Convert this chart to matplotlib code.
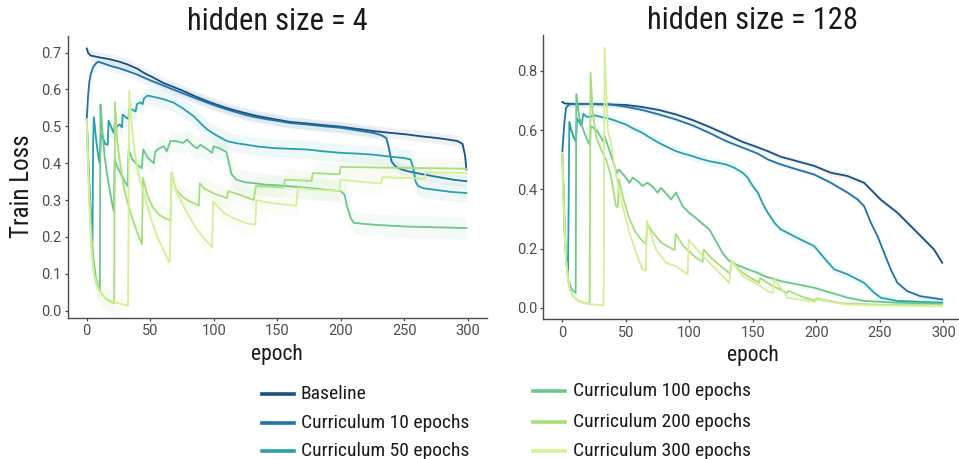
import matplotlib
matplotlib.use("Agg")
import matplotlib.pyplot as plt
from matplotlib.lines import Line2D
import numpy as np

W, H = 959, 459

labels = ["Baseline", "Curriculum 10 epochs", "Curriculum 50 epochs",
          "Curriculum 100 epochs", "Curriculum 200 epochs", "Curriculum 300 epochs"]
colors = ["#1b4f7f", "#1f74a6", "#2aa0a8", "#6cc68c", "#a9de7c", "#d5ef97"]
titles = ["hidden size = 4", "hidden size = 128"]
xticks = [0, 50, 100, 150, 200, 250, 300]
h4_yticks = [0.0, 0.1, 0.2, 0.3, 0.4, 0.5, 0.6, 0.7]
h128_yticks = [0.0, 0.2, 0.4, 0.6, 0.8]

# ---- hidden size = 4 ----
h4_base_ep = [0, 1, 3, 10, 18, 25, 32, 40, 45, 52, 60, 68, 76, 85, 95, 103, 110, 118, 126,
              134, 142, 150, 160, 173, 187, 200, 213, 226, 240, 252, 263, 274, 283, 292,
              296, 298, 299]
h4_base_loss = [0.711, 0.700, 0.692, 0.687, 0.682, 0.676, 0.668, 0.656, 0.645, 0.633, 0.618,
                0.607, 0.596, 0.582, 0.568, 0.558, 0.550, 0.542, 0.535, 0.528, 0.523, 0.518,
                0.512, 0.508, 0.503, 0.499, 0.493, 0.487, 0.482, 0.478, 0.473, 0.469, 0.465,
                0.460, 0.452, 0.420, 0.383]

h4_c10_ep = [0, 1, 2, 3, 5, 7, 9, 12, 18.6, 25, 32, 40, 45, 52, 60, 68, 76, 85, 95, 103, 110,
             118, 126, 134, 142, 150, 160, 173, 187, 200, 213, 226, 232, 236, 238, 240, 243,
             247, 253, 263, 274, 289, 299]
h4_c10_loss = [0.519, 0.580, 0.620, 0.640, 0.660, 0.670, 0.675, 0.672, 0.664, 0.658, 0.650,
               0.640, 0.632, 0.622, 0.611, 0.600, 0.589, 0.577, 0.564, 0.554, 0.546, 0.538,
               0.530, 0.524, 0.519, 0.515, 0.509, 0.505, 0.500, 0.496, 0.489, 0.482, 0.476,
               0.468, 0.440, 0.405, 0.392, 0.384, 0.378, 0.371, 0.364, 0.355, 0.351]

h4_c50_ep = [0, 1.5, 3, 4.5, 5, 5.6, 7.5, 9.5, 10.3, 11, 12, 14.5, 16.5, 17.2, 19, 21.3, 22.3,
             24, 26, 27.8, 28.3, 30.5, 32.8, 33.5, 36, 38.5, 39.5, 42, 44, 45, 47.5, 50, 55,
             60, 68.5, 76, 84, 90, 95, 100, 105, 110.5, 118, 126, 135, 147, 160, 173.7, 187,
             200, 213, 226, 238, 250, 255, 257, 259, 261, 265, 273.7, 287, 299]
h4_c50_loss = [0.519, 0.380, 0.270, 0.190, 0.450, 0.525, 0.460, 0.410, 0.400, 0.470, 0.476,
               0.452, 0.450, 0.515, 0.500, 0.482, 0.510, 0.500, 0.505, 0.497, 0.532, 0.525,
               0.520, 0.548, 0.545, 0.540, 0.560, 0.565, 0.560, 0.575, 0.583, 0.582, 0.578,
               0.574, 0.564, 0.548, 0.528, 0.507, 0.491, 0.480, 0.470, 0.460, 0.454, 0.450,
               0.445, 0.441, 0.439, 0.437, 0.432, 0.428, 0.426, 0.423, 0.418, 0.414, 0.410,
               0.390, 0.350, 0.338, 0.332, 0.328, 0.322, 0.319]

h4_c100_ep = [0, 1.5, 3, 5, 7, 9, 10.3, 10.8, 12, 14, 16, 18, 20, 21.3, 22, 24, 27, 30, 32.3,
              33, 36, 40, 43.3, 44.5, 48, 52.8, 54, 57, 60.6, 63, 65.9, 70, 76, 79, 83, 87,
              89.5, 94, 98.7, 100, 105, 110, 112, 114, 118, 125, 131.5, 140, 154, 173.7, 200,
              203, 205, 208, 210.5, 226, 252.6, 275, 299]
h4_c100_loss = [0.519, 0.380, 0.260, 0.150, 0.090, 0.065, 0.055, 0.559, 0.500, 0.420, 0.370,
                0.330, 0.290, 0.270, 0.410, 0.390, 0.370, 0.350, 0.337, 0.436, 0.410, 0.395,
                0.386, 0.437, 0.415, 0.400, 0.432, 0.440, 0.446, 0.432, 0.460, 0.460, 0.455,
                0.464, 0.450, 0.440, 0.450, 0.440, 0.428, 0.446, 0.440, 0.430, 0.400, 0.370,
                0.355, 0.348, 0.346, 0.342, 0.339, 0.333, 0.324, 0.315, 0.283, 0.250, 0.238,
                0.233, 0.228, 0.226, 0.224]

h4_c200_ep = [0, 1, 2, 3, 4, 6, 8, 10, 13, 16, 19, 21.6, 22.2, 24, 27, 30, 35, 40, 43.5, 44.2,
              48, 52, 57, 62, 66, 66.8, 70, 75, 80, 88.3, 89, 93, 100, 110.5, 111.5, 120,
              131.5, 133.3, 145, 155, 156, 177, 178, 199, 200, 230, 260, 299]
h4_c200_loss = [0.519, 0.400, 0.300, 0.220, 0.160, 0.095, 0.070, 0.055, 0.040, 0.030, 0.024,
                0.020, 0.565, 0.460, 0.380, 0.320, 0.260, 0.210, 0.180, 0.360, 0.310, 0.280,
                0.260, 0.250, 0.245, 0.374, 0.330, 0.310, 0.298, 0.285, 0.346, 0.330, 0.318,
                0.305, 0.324, 0.315, 0.300, 0.338, 0.336, 0.334, 0.355, 0.352, 0.373, 0.370,
                0.390, 0.388, 0.387, 0.385]

h4_c300_ep = [0, 1, 2, 3, 4, 5, 6, 8, 10, 13, 16, 20, 25, 32.5, 33.5, 35.7, 38.3, 41, 44.9,
              50, 55.4, 60.6, 64.6, 65.5, 66.5, 71, 79, 87, 93.4, 98.7, 99.5, 108, 118, 126,
              132.8, 133.5, 140, 150, 165, 166.3, 180, 199, 200, 215, 232, 233, 250, 266,
              267, 285, 299]
h4_c300_loss = [0.519, 0.400, 0.300, 0.220, 0.160, 0.120, 0.095, 0.070, 0.055, 0.040, 0.032,
                0.025, 0.020, 0.013, 0.596, 0.490, 0.419, 0.364, 0.319, 0.256, 0.200, 0.165,
                0.133, 0.133, 0.374, 0.319, 0.265, 0.219, 0.192, 0.172, 0.296, 0.265, 0.247,
                0.237, 0.233, 0.300, 0.295, 0.290, 0.285, 0.333, 0.328, 0.325, 0.355, 0.350,
                0.345, 0.362, 0.360, 0.358, 0.375, 0.374, 0.373]

h4_spread = [0.015, 0.015, 0.025, 0.03, 0.03, 0.03]

# ---- hidden size = 128 ----
h128_base_ep = [0, 2, 5.5, 20, 35, 50, 63, 76, 89.5, 102.6, 115.7, 128.9, 142, 150, 161.8,
                172, 185, 198.4, 211.5, 224.6, 237.7, 250.8, 263.9, 277, 287.4, 292.7, 299.2]
h128_base_loss = [0.695, 0.690, 0.689, 0.688, 0.687, 0.685, 0.678, 0.668, 0.653, 0.634, 0.611,
                  0.586, 0.560, 0.548, 0.529, 0.510, 0.495, 0.479, 0.456, 0.445, 0.422, 0.365,
                  0.321, 0.265, 0.220, 0.197, 0.152]

h128_c10_ep = [0, 1.6, 2.9, 5.5, 20, 37, 50, 63, 76, 89.5, 102.6, 115.7, 128.9, 142, 153.8,
               161.8, 172, 185, 198.4, 211.5, 224.6, 232.5, 237.7, 243, 248.2, 253.4, 258.6,
               263.9, 271.7, 282, 299.2]
h128_c10_loss = [0.529, 0.625, 0.676, 0.687, 0.688, 0.687, 0.679, 0.668, 0.653, 0.636, 0.616,
                 0.591, 0.563, 0.541, 0.521, 0.501, 0.484, 0.467, 0.450, 0.422, 0.389, 0.366,
                 0.343, 0.287, 0.242, 0.186, 0.130, 0.084, 0.056, 0.039, 0.028]

h128_c50_ep = [0, 1, 2, 3.5, 4.5, 5.5, 7, 9, 10.8, 11.5, 13, 15, 16.5, 19, 22, 25, 30, 36, 43,
               50, 56, 63, 70, 76, 83, 89.5, 96, 102.6, 109, 115.7, 122, 128.9, 135, 142, 146,
               150, 154, 158, 161.8, 167, 172, 185, 198.4, 206, 214, 224.6, 237.7, 245.5,
               250.8, 263.9, 299.2]
h128_c50_loss = [0.520, 0.400, 0.250, 0.140, 0.127, 0.628, 0.600, 0.575, 0.561, 0.640, 0.630,
                 0.615, 0.655, 0.645, 0.645, 0.650, 0.645, 0.640, 0.630, 0.619, 0.605, 0.591,
                 0.572, 0.557, 0.542, 0.529, 0.520, 0.512, 0.503, 0.495, 0.490, 0.484, 0.474,
                 0.456, 0.439, 0.411, 0.389, 0.350, 0.321, 0.287, 0.265, 0.236, 0.208, 0.169,
                 0.130, 0.113, 0.084, 0.051, 0.034, 0.023, 0.017]

h128_c100_ep = [0, 1, 2, 3, 5, 7, 9, 10.5, 11, 13.4, 17.3, 20.7, 21.8, 22.3, 27, 32.5, 33.3,
                38, 43, 44.5, 50, 52.8, 55.5, 60, 63, 67, 71, 75, 77.7, 82, 85.6, 89.5, 94.8,
                100, 105, 110, 115.7, 121, 126, 131, 136.7, 146, 153.8, 159, 172, 185, 198,
                211.5, 224.6, 237.7, 264, 299]
h128_c100_loss = [0.520, 0.360, 0.240, 0.160, 0.090, 0.065, 0.055, 0.050, 0.722, 0.642, 0.591,
                  0.557, 0.550, 0.614, 0.600, 0.560, 0.580, 0.520, 0.455, 0.467, 0.440, 0.422,
                  0.440, 0.425, 0.411, 0.422, 0.410, 0.389, 0.405, 0.385, 0.366, 0.389, 0.343,
                  0.320, 0.304, 0.285, 0.265, 0.225, 0.186, 0.160, 0.146, 0.130, 0.118, 0.107,
                  0.090, 0.079, 0.068, 0.051, 0.034, 0.023, 0.017, 0.0135]

h128_c200_ep = [0, 1, 2, 3, 4, 6, 8, 12, 16, 21.5, 22.2, 24, 26.5, 30.4, 34.4, 38.3, 42.3,
                43.7, 44.5, 48, 52, 57, 62, 66, 66.8, 72, 78, 84, 88.5, 89.3, 95, 100, 105,
                110.5, 111.3, 118, 125, 132, 133.3, 140, 146, 155, 155.8, 165, 177, 178, 190,
                199, 200, 220, 250, 299]
h128_c200_loss = [0.520, 0.360, 0.240, 0.160, 0.110, 0.060, 0.040, 0.025, 0.018, 0.0135,
                  0.794, 0.659, 0.580, 0.535, 0.501, 0.445, 0.343, 0.340, 0.434, 0.370, 0.310,
                  0.260, 0.230, 0.215, 0.285, 0.250, 0.220, 0.205, 0.195, 0.250, 0.210, 0.190,
                  0.170, 0.155, 0.197, 0.165, 0.140, 0.115, 0.160, 0.125, 0.107, 0.085, 0.100,
                  0.075, 0.050, 0.058, 0.035, 0.025, 0.032, 0.015, 0.010, 0.008]

h128_c300_ep = [0, 1, 2, 3, 4, 6, 8, 12, 16, 22, 32.5, 33.3, 35.7, 38.3, 41, 45, 48.8, 52.8,
                58, 63, 65.8, 66.5, 73.7, 81.6, 89.5, 98.7, 99.5, 110.5, 121, 131.5, 133.3,
                142, 153.8, 161.8, 166, 166.8, 177.5, 199, 200, 224.6, 250, 299]
h128_c300_loss = [0.520, 0.360, 0.240, 0.160, 0.110, 0.060, 0.040, 0.025, 0.018, 0.012, 0.008,
                  0.878, 0.602, 0.557, 0.479, 0.389, 0.321, 0.253, 0.186, 0.130, 0.125, 0.293,
                  0.197, 0.152, 0.140, 0.113, 0.231, 0.175, 0.130, 0.084, 0.158, 0.107, 0.079,
                  0.056, 0.050, 0.096, 0.034, 0.020, 0.028, 0.011, 0.008, 0.006]

h128_spread = [0.01, 0.008, 0.015, 0.01, 0.005, 0.005]

h4_series = [(h4_base_ep, h4_base_loss), (h4_c10_ep, h4_c10_loss), (h4_c50_ep, h4_c50_loss),
             (h4_c100_ep, h4_c100_loss), (h4_c200_ep, h4_c200_loss), (h4_c300_ep, h4_c300_loss)]
h128_series = [(h128_base_ep, h128_base_loss), (h128_c10_ep, h128_c10_loss),
               (h128_c50_ep, h128_c50_loss), (h128_c100_ep, h128_c100_loss),
               (h128_c200_ep, h128_c200_loss), (h128_c300_ep, h128_c300_loss)]

COND = ["Roboto Condensed", "Liberation Sans Narrow", "Roboto"]
TICK_FONT = ["Roboto", "DejaVu Sans"]
AXIS_GRAY = "#4a4a4a"

fig = plt.figure(figsize=(W / 100, H / 100), dpi=100)
ax_l = fig.add_axes([67.7 / W, 1 - 318 / H, 419 / W, 282 / H])
ax_r = fig.add_axes([543.3 / W, 1 - 319.3 / H, 419 / W, 283.9 / H])

panels = [
    (ax_l, h4_series, h4_spread, (-0.02, 0.745), h4_yticks, "{:.1f}", titles[0]),
    (ax_r, h128_series, h128_spread, (-0.039, 0.92), h128_yticks, "{:.1f}", titles[1]),
]

for ax, series, spreads, ylim, yticks, fmt, title in panels:
    for (ep, loss), col, sd in zip(series, colors, spreads):
        ep = np.asarray(ep, dtype=float)
        loss = np.asarray(loss, dtype=float)
        ax.fill_between(ep, loss - sd, loss + sd, color=col, alpha=0.07, lw=0)
        ax.plot(ep, loss, color=col, lw=1.3, solid_joinstyle="round")
    ax.set_xlim(-15, 315)
    ax.set_ylim(*ylim)
    ax.set_xticks(xticks)
    ax.set_yticks(yticks)
    ax.set_yticklabels([fmt.format(v) for v in yticks])
    for side in ("top", "right"):
        ax.spines[side].set_visible(False)
    for side in ("left", "bottom"):
        ax.spines[side].set_color(AXIS_GRAY)
        ax.spines[side].set_linewidth(1.0)
    ax.tick_params(axis="both", length=2.5, width=0.9, color=AXIS_GRAY,
                   labelcolor="#4d4d4d", labelsize=10.5, pad=2)
    for lab in ax.get_xticklabels() + ax.get_yticklabels():
        lab.set_family(TICK_FONT)
    ax.set_title(title, family=COND, fontsize=22, color="#1a1a1a", pad=1)
    ax.set_xlabel("epoch", family=COND, fontsize=15.5, color="#1a1a1a", labelpad=4)

fig.text(21.7 / W, 1 - 186 / H, "Train Loss", rotation=90, ha="center", va="center",
         family=COND, fontsize=18, color="#1a1a1a")

# legend: two columns of three entries
legend_rows = [
    (262, 294, 301, 394),
    (262, 294, 301, 423),
    (262, 294, 301, 451),
    (533, 565, 573, 391),
    (533, 565, 573, 422),
    (533, 565, 573, 451),
]
for (x0, x1, xt, yc), col, lab in zip(legend_rows, colors, labels):
    fig.add_artist(Line2D([x0 / W, x1 / W], [1 - yc / H, 1 - yc / H], color=col, lw=2.6,
                          transform=fig.transFigure))
    fig.text(xt / W, 1 - yc / H, lab, ha="left", va="center", family=COND, fontsize=14,
             color="#1a1a1a")

fig.savefig("out.png", dpi=100, facecolor="white")
